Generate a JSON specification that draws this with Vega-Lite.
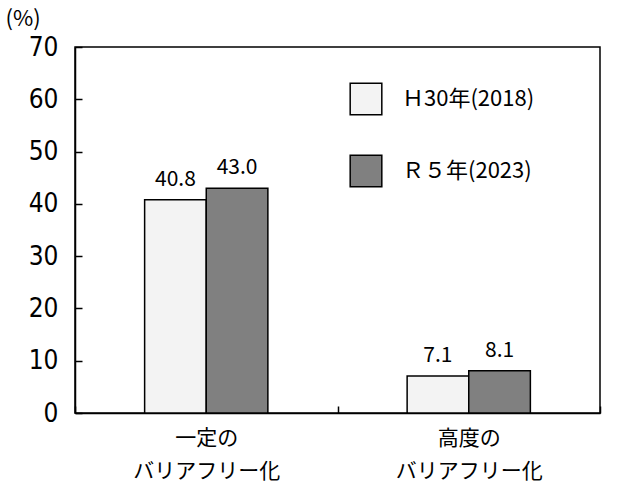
{
  "$schema": "https://vega.github.io/schema/vega-lite/v6.json",
  "width": 525,
  "height": 366,
  "autosize": {"type": "none"},
  "padding": {"left": 75, "top": 47, "right": 22, "bottom": 87},
  "background": "white",
  "config": {
    "view": {"stroke": "black", "strokeWidth": 1.5},
    "font": "Noto Sans CJK JP",
    "axis": {"grid": false, "domainColor": "black", "tickColor": "black", "labelColor": "black", "titleColor": "black"}
  },
  "data": {
    "values": [
      {"cat": "一定の|バリアフリー化", "year": "Ｈ30年(2018)", "value": 40.8},
      {"cat": "一定の|バリアフリー化", "year": "Ｒ５年(2023)", "value": 43.0},
      {"cat": "高度の|バリアフリー化", "year": "Ｈ30年(2018)", "value": 7.1},
      {"cat": "高度の|バリアフリー化", "year": "Ｒ５年(2023)", "value": 8.1}
    ]
  },
  "encoding": {
    "x": {
      "field": "cat", "type": "nominal", "sort": null,
      "scale": {"paddingInner": 0, "paddingOuter": 0},
      "axis": {
        "title": null, "labelAngle": 0, "labelExpr": "isString(datum.value) ? split(datum.value, '|') : ''",
        "labelFontSize": 21, "labelLineHeight": 33, "labelPadding": 21,
        "tickBand": "extent", "tickSize": -7, "tickWidth": 1.5, "domainWidth": 1.5,
        "labelFont": "Noto Sans CJK JP"
      }
    },
    "xOffset": {
      "field": "year", "type": "nominal",
      "scale": {"domain": ["pad-left", "Ｈ30年(2018)", "Ｒ５年(2023)", "pad-right"], "paddingInner": 0, "paddingOuter": 0.13}
    },
    "y": {
      "field": "value", "type": "quantitative",
      "scale": {"domain": [0, 70], "nice": false},
      "axis": {
        "values": [0, 10, 20, 30, 40, 50, 60, 70],
        "tickSize": -7, "tickWidth": 1.5, "domainWidth": 1.5,
        "labelFontSize": 26, "labelPadding": 24, "labelFont": "Liberation Sans Narrow, DejaVu Sans Condensed, Noto Sans",
        "title": "(%)", "titleAngle": 0, "titleX": -70, "titleY": -17, "titleAlign": "left",
        "titleFontSize": 22, "titleFontWeight": "normal", "titleFont": "Noto Sans CJK JP"
      }
    }
  },
  "layer": [
    {
      "mark": {"type": "bar", "stroke": "black", "strokeWidth": 1.5},
      "encoding": {
        "fill": {
          "field": "year", "type": "nominal",
          "scale": {"domain": ["Ｈ30年(2018)", "Ｒ５年(2023)"], "range": ["#f3f3f3", "#808080"]},
          "legend": {
            "title": null, "orient": "none", "legendX": 274, "legendY": 35,
            "symbolType": "square", "symbolSize": 1000, "symbolStrokeColor": "black", "symbolStrokeWidth": 1.5,
            "labelFontSize": 22, "labelFont": "Noto Sans CJK JP", "labelColor": "black",
            "rowPadding": 34, "labelOffset": 19
          }
        }
      }
    },
    {
      "mark": {"type": "text", "dy": -20, "fontSize": 21, "color": "black", "font": "Noto Sans CJK JP"},
      "encoding": {
        "text": {"field": "value", "type": "quantitative", "format": ".1f"}
      }
    }
  ]
}
